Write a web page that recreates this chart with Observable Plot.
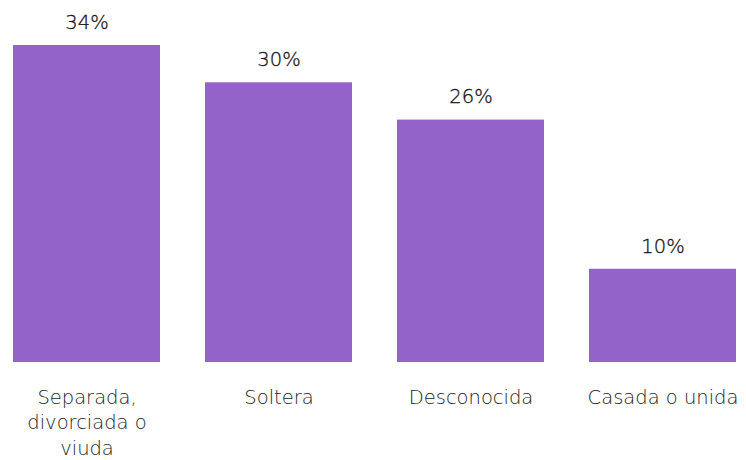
<!DOCTYPE html>
<html>
<head>
<meta charset="utf-8">
<script src="https://cdn.jsdelivr.net/npm/d3@7"></script>
<script src="https://cdn.jsdelivr.net/npm/@observablehq/plot@0.6"></script>
<style>
  html, body { margin: 0; padding: 0; background: #fff; }
  #chart svg { display: block; }
</style>
</head>
<body>
<div id="chart"></div>
<script>
const categories = ["Separada, divorciada o viuda", "Soltera", "Desconocida", "Casada o unida"];
const tickLabels = ["Separada,\ndivorciada o\nviuda", "Soltera", "Desconocida", "Casada o unida"];
const values = [34, 30, 26, 10];

const data = categories.map((c, i) => ({category: c, value: values[i]}));

const chart = Plot.plot({
  width: 746,
  height: 460,
  marginLeft: 12,
  marginRight: 9,
  marginTop: 45,
  marginBottom: 98,
  style: {fontFamily: "'DejaVu Sans', sans-serif", fontWeight: 200, background: "#fff"},
  x: {domain: categories, paddingInner: 0.234, paddingOuter: 0, label: null},
  y: {domain: [0, 34], axis: null},
  marks: [
    Plot.barY(data, {x: "category", y: "value", fill: "#9363CA"}),
    Plot.text(data, {x: "category", y: "value", text: d => d.value + "%", dy: -23, fontSize: 19.5, fill: "#111", stroke: "#111", strokeWidth: 0.3}),
    Plot.axisX({
      tickSize: 0,
      tickPadding: 23.5,
      fontSize: 19.5,
      lineHeight: 1.3,
      tickFormat: d => tickLabels[categories.indexOf(d)],
      color: "#222",
      label: null
    })
  ]
});
document.getElementById("chart").appendChild(chart);
</script>
</body>
</html>
